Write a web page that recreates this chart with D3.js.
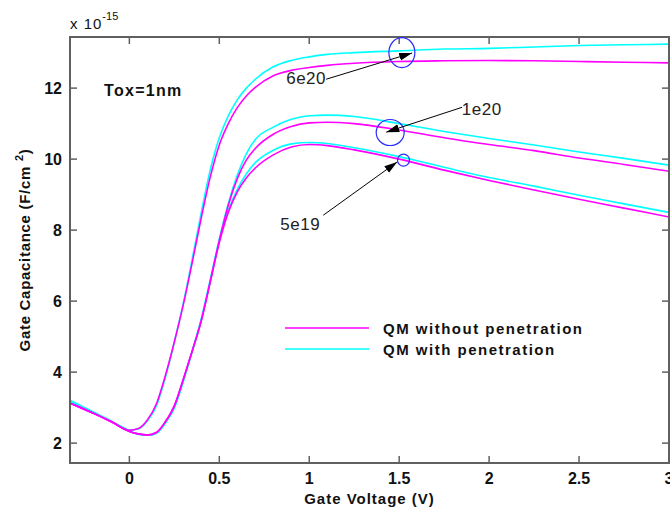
<!DOCTYPE html>
<html>
<head>
<meta charset="utf-8">
<script src="https://cdn.jsdelivr.net/npm/d3@7"></script>
<style>
  body { margin: 0; background: #fff; }
  text { font-family: "Liberation Sans", Arial, sans-serif; }
  .tick-label { font-size: 16px; font-weight: bold; fill: #111; }
  .axis-title { font-size: 15px; font-weight: bold; fill: #111; }
  .legend-text { font-size: 15px; font-weight: bold; letter-spacing: 1.5px; fill: #111; }
  .ann-text { font-size: 17px; fill: #222; letter-spacing: 0.5px; }
</style>
</head>
<body>
<svg class="chart" width="670" height="508"></svg>
<script>
// gate voltage grid (V)
const vg = [-0.33, -0.2, -0.1, 0, 0.05, 0.1, 0.15, 0.2, 0.25, 0.3, 0.35, 0.4, 0.45, 0.5, 0.55, 0.6, 0.65, 0.7, 0.8, 0.9, 1.0, 1.1, 1.25, 1.5, 1.75, 2.0, 2.25, 2.5, 2.75, 3.0]

// gate capacitance, x 1e-15 F/cm^2
const qm6e20 = [3.13, 2.84, 2.6, 2.36, 2.41, 2.65, 3.1, 3.9, 4.85, 5.9, 7.1, 8.35, 9.5, 10.4, 11.0, 11.45, 11.78, 12.02, 12.35, 12.5, 12.58, 12.64, 12.7, 12.75, 12.77, 12.78, 12.77, 12.75, 12.73, 12.71]
const qmp6e20 = [3.2, 2.87, 2.62, 2.37, 2.4, 2.62, 3.05, 3.85, 4.85, 5.95, 7.2, 8.5, 9.7, 10.6, 11.22, 11.67, 12.0, 12.25, 12.6, 12.78, 12.88, 12.95, 13.0, 13.05, 13.1, 13.12, 13.16, 13.2, 13.22, 13.24]
const qm1e20 = [3.13, 2.84, 2.6, 2.33, 2.26, 2.23, 2.3, 2.6, 3.05, 3.8, 4.6, 5.45, 6.55, 7.7, 8.7, 9.45, 9.97, 10.3, 10.7, 10.92, 11.02, 11.04, 11.0, 10.82, 10.6, 10.41, 10.24, 10.03, 9.85, 9.66]
const qmp1e20 = [3.2, 2.87, 2.62, 2.34, 2.25, 2.22, 2.28, 2.57, 3.0, 3.75, 4.6, 5.5, 6.6, 7.75, 8.75, 9.55, 10.15, 10.55, 10.9, 11.12, 11.22, 11.24, 11.2, 11.0, 10.78, 10.58, 10.4, 10.2, 10.02, 9.83]
const qm5e19 = [3.13, 2.84, 2.6, 2.33, 2.26, 2.23, 2.3, 2.6, 3.05, 3.8, 4.6, 5.45, 6.55, 7.65, 8.5, 9.08, 9.47, 9.75, 10.12, 10.34, 10.41, 10.38, 10.26, 10.0, 9.69, 9.4, 9.13, 8.87, 8.62, 8.37]
const qmp5e19 = [3.2, 2.87, 2.62, 2.34, 2.25, 2.22, 2.28, 2.57, 3.0, 3.75, 4.6, 5.5, 6.6, 7.7, 8.55, 9.15, 9.58, 9.9, 10.25, 10.43, 10.47, 10.44, 10.32, 10.07, 9.77, 9.48, 9.24, 8.98, 8.74, 8.5]

const xTicks = [0, 0.5, 1, 1.5, 2, 2.5, 3]
const xTickLabels = ["0", "0.5", "1", "1.5", "2", "2.5", "3"]
const yTicks = [2, 4, 6, 8, 10, 12]

// annotations: label, label anchor, arrow tail, arrow tip, circle centre (data units)
const annLabels = ["6e20", "1e20", "5e19"]
const annText = [[0.872, 12.11], [1.848, 11.24], [0.839, 8.0]]
const annTail = [[1.094, 12.25], [1.85, 11.46], [1.078, 8.42]]
const annTip = [[1.572, 12.99], [1.428, 10.76], [1.489, 9.92]]
const annCircle = [[1.515, 13.0], [1.45, 10.75], [1.524, 9.97]]
const annRadius = [[13, 15], [14, 13], [6, 6]]

const magenta = "#ff00ff"
const cyan = "#00ffff"
const axisColor = "#606060"

var svg = d3.select(".chart")
var pLeft = 70, pRight = 669, pTop = 37, pBottom = 463

var x = d3.scaleLinear().domain([-0.33, 3]).range([pLeft, pRight])
var y = d3.scaleLinear().domain([1.44, 13.44]).range([pBottom, pTop])

var line = d3.line()
    .x(function (d, i) { return x(vg[i]) })
    .y(function (d) { return y(d) })
    .curve(d3.curveMonotoneX)

var defs = svg.append("defs")
defs.append("clipPath").attr("id", "plotclip")
    .append("rect")
    .attr("x", pLeft).attr("y", pTop)
    .attr("width", pRight - pLeft).attr("height", pBottom - pTop)

defs.append("marker")
    .attr("id", "arrowhead")
    .attr("markerUnits", "userSpaceOnUse")
    .attr("markerWidth", 14).attr("markerHeight", 10)
    .attr("refX", 13).attr("refY", 4)
    .attr("orient", "auto")
    .append("path")
    .attr("d", "M0,0 L13,4 L0,8 Z")
    .style("fill", "#000")

// curves, cyan underneath magenta
var curves = svg.append("g").attr("clip-path", "url(#plotclip)")
var series = [
    [qmp6e20, cyan], [qmp1e20, cyan], [qmp5e19, cyan],
    [qm6e20, magenta], [qm1e20, magenta], [qm5e19, magenta]
]
series.forEach(function (s) {
    curves.append("path")
        .datum(s[0])
        .attr("d", line)
        .style("fill", "none")
        .style("stroke", s[1])
        .style("stroke-width", 1.6)
})

// axes box with inward ticks
var axes = svg.append("g")
axes.append("rect")
    .attr("x", pLeft).attr("y", pTop)
    .attr("width", pRight - pLeft).attr("height", pBottom - pTop)
    .style("fill", "none")
    .style("stroke", axisColor)
    .style("stroke-width", 2)

xTicks.forEach(function (t, i) {
    axes.append("line")
        .attr("x1", x(t)).attr("x2", x(t))
        .attr("y1", pBottom).attr("y2", pBottom - 7)
        .style("stroke", axisColor).style("stroke-width", 1.5)
    axes.append("line")
        .attr("x1", x(t)).attr("x2", x(t))
        .attr("y1", pTop).attr("y2", pTop + 7)
        .style("stroke", axisColor).style("stroke-width", 1.5)
    axes.append("text")
        .classed("tick-label", true)
        .text(xTickLabels[i])
        .attr("x", x(t))
        .attr("y", 484)
        .style("text-anchor", "middle")
})

yTicks.forEach(function (t) {
    axes.append("line")
        .attr("x1", pLeft).attr("x2", pLeft + 7)
        .attr("y1", y(t)).attr("y2", y(t))
        .style("stroke", axisColor).style("stroke-width", 1.5)
    axes.append("line")
        .attr("x1", pRight).attr("x2", pRight - 7)
        .attr("y1", y(t)).attr("y2", y(t))
        .style("stroke", axisColor).style("stroke-width", 1.5)
    axes.append("text")
        .classed("tick-label", true)
        .text(t)
        .attr("x", 62)
        .attr("y", y(t) + 6)
        .style("text-anchor", "end")
})

// exponent
var expo = svg.append("text")
    .attr("x", 70).attr("y", 29)
    .style("font-size", "15px")
    .style("letter-spacing", "1px")
    .style("fill", "#111")
expo.append("tspan").text("x 10")
expo.append("tspan").text("-15")
    .attr("dy", -9)
    .style("font-size", "11px")
    .style("letter-spacing", "0px")

// axis titles
svg.append("text")
    .classed("axis-title", true)
    .text("Gate Voltage (V)")
    .attr("x", (pLeft + pRight) / 2)
    .attr("y", 504)
    .style("text-anchor", "middle")
    .style("letter-spacing", "1px")

var yt = svg.append("text")
    .classed("axis-title", true)
    .attr("transform", "translate(30," + ((pTop + pBottom) / 2) + ") rotate(-90)")
    .style("text-anchor", "middle")
    .style("letter-spacing", "0.7px")
yt.append("tspan").text("Gate Capacitance (F/cm ")
yt.append("tspan").text("2").attr("dy", -7).style("font-size", "11px")
yt.append("tspan").text(")").attr("dy", 7)

svg.append("text")
    .text("Tox=1nm")
    .attr("x", 104).attr("y", 96)
    .style("font-size", "16px")
    .style("font-weight", "bold")
    .style("letter-spacing", "1.3px")
    .style("fill", "#111")

// legend
var legend = svg.append("g")
var legendItems = [["QM without penetration", magenta], ["QM with penetration", cyan]]
legendItems.forEach(function (d, i) {
    var ly = 328 + i * 21
    legend.append("line")
        .attr("x1", 285).attr("x2", 369)
        .attr("y1", ly).attr("y2", ly)
        .style("stroke", d[1]).style("stroke-width", 1.6)
    legend.append("text")
        .classed("legend-text", true)
        .text(d[0])
        .attr("x", 383).attr("y", ly + 6)
})

// annotations
var ann = svg.append("g")
annLabels.forEach(function (lab, i) {
    ann.append("ellipse")
        .attr("cx", x(annCircle[i][0])).attr("cy", y(annCircle[i][1]))
        .attr("rx", annRadius[i][0]).attr("ry", annRadius[i][1])
        .style("fill", "none")
        .style("stroke", "#2a2aff")
        .style("stroke-width", 1.2)
    ann.append("line")
        .attr("x1", x(annTail[i][0])).attr("y1", y(annTail[i][1]))
        .attr("x2", x(annTip[i][0])).attr("y2", y(annTip[i][1]))
        .style("stroke", "#000")
        .style("stroke-width", 1)
        .attr("marker-end", "url(#arrowhead)")
    ann.append("text")
        .classed("ann-text", true)
        .text(lab)
        .attr("x", x(annText[i][0])).attr("y", y(annText[i][1]))
})
</script>
</body>
</html>
